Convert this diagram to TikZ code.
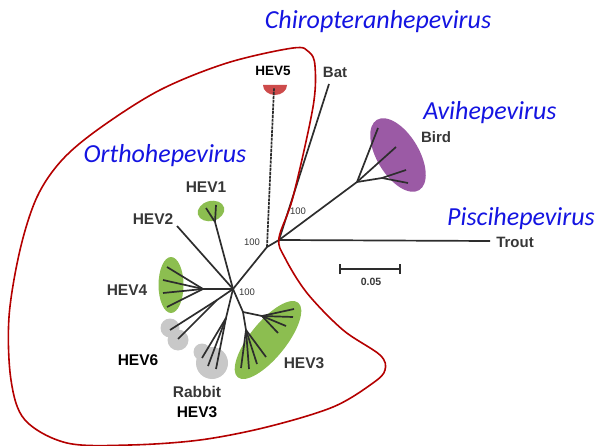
\documentclass[tikz,border=0pt]{standalone}
\usepackage{fontspec}
\setmainfont{Liberation Sans}
\newfontfamily\carlito{Carlito}
\usetikzlibrary{shapes.geometric}
\definecolor{branch}{RGB}{45,45,45}
\definecolor{cladered}{RGB}{180,0,0}
\definecolor{genus}{RGB}{20,20,225}
\definecolor{hevgreen}{RGB}{140,190,80}
\definecolor{blobgray}{RGB}{200,200,200}
\definecolor{birdpurple}{RGB}{155,90,165}
\definecolor{capred}{RGB}{205,75,75}
\definecolor{labgray}{RGB}{55,55,55}
\begin{document}
\begin{tikzpicture}[x=1pt,y=-1pt,
  br/.style={draw=branch, line width=1.7pt},
  genuslabel/.style={text=genus, font=\carlito\itshape\fontsize{26}{26}\selectfont, inner sep=0pt},
  taxlab/.style={text=labgray, font=\bfseries\fontsize{15.5}{15.5}\selectfont, inner sep=0pt},
  taxlabk/.style={text=black, font=\bfseries\fontsize{15.5}{15.5}\selectfont, inner sep=0pt},
  smalltax/.style={text=labgray, font=\bfseries\fontsize{15}{15}\selectfont, inner sep=0pt},
  bootstrap/.style={text=labgray, font=\fontsize{9.5}{9.5}\selectfont, inner sep=0pt},
  blob/.style={ellipse, draw=none, inner sep=0pt},
]
\useasboundingbox (0,0) rectangle (599,446);

% coloured clade blobs
\node[blob, fill=hevgreen, minimum width=96pt, minimum height=36pt, rotate=51] (g3) at (268,340) {};
\node[blob, fill=hevgreen, minimum width=25pt, minimum height=56pt] (g4) at (171,285) {};
\node[blob, fill=hevgreen, minimum width=27pt, minimum height=20pt, rotate=15] (g1) at (211,211) {};
\node[blob, fill=birdpurple, minimum width=82pt, minimum height=42pt, rotate=-59] (pb) at (398,155) {};
\node[circle, fill=blobgray, minimum size=19pt, inner sep=0pt] (g6a) at (170,328) {};
\node[circle, fill=blobgray, minimum size=21pt, inner sep=0pt] (g6b) at (178,340) {};
\node[circle, fill=blobgray, minimum size=32pt, inner sep=0pt] (rba) at (212,363) {};
\node[circle, fill=blobgray, minimum size=17pt, inner sep=0pt] (rbb) at (202,352) {};
\fill[capred] (263,85) arc[start angle=180, end angle=0, x radius=12, y radius=10] -- cycle;

% tree nodes
\coordinate (C1) at (233,289);
\coordinate (N2) at (267,247);
\coordinate (N3) at (279,240);
\coordinate (h5) at (274,88);
\coordinate (bat) at (329,84);
\coordinate (trout) at (490,241);
\coordinate (B) at (357,182);
\coordinate (b1) at (378,128);
\coordinate (b2) at (396,147);
\coordinate (bs) at (382,178);
\coordinate (b3) at (406,170);
\coordinate (b4) at (408,183);
\coordinate (h2) at (177,226);
\coordinate (h1) at (215,222);
\coordinate (h1a) at (206,208);
\coordinate (h1b) at (216,205);
\coordinate (s4) at (203,289);
\coordinate (t4a) at (167,267);
\coordinate (t4b) at (163,280);
\coordinate (t4c) at (163,293);
\coordinate (t4d) at (167,307);
\coordinate (s6) at (217,300);
\coordinate (t6a) at (170,330);
\coordinate (t6b) at (178,339);
\coordinate (rs) at (226,318);
\coordinate (ra) at (202,358);
\coordinate (rb) at (208,366);
\coordinate (rc) at (216,369);
\coordinate (h3) at (243,312);
\coordinate (ha) at (262,316);
\coordinate (hb) at (246,330);
\coordinate (ta1) at (294,309);
\coordinate (ta2) at (293,317);
\coordinate (ta3) at (286,326);
\coordinate (ta4) at (278,333);
\coordinate (tb1) at (241,368);
\coordinate (tb2) at (249,369);
\coordinate (tb3) at (257,364);
\coordinate (tb4) at (266,357);

% branches
\draw[br] (C1) -- (N2) -- (N3);
\draw[br, dash pattern=on 3pt off 0.8pt] (N2) -- (h5);
\draw[br] (N3) -- (bat);
\draw[br] (N3) -- (trout);
\draw[br] (N3) -- (B);
\draw[br] (B) -- (b1);
\draw[br] (B) -- (b2);
\draw[br] (B) -- (bs) -- (b3);
\draw[br] (bs) -- (b4);
\draw[br] (C1) -- (h2);
\draw[br] (C1) -- (h1) -- (h1a);
\draw[br] (h1) -- (h1b);
\draw[br] (C1) -- (s4);
\foreach \t in {t4a,t4b,t4c,t4d} \draw[br] (s4) -- (\t);
\draw[br] (C1) -- (s6);
\draw[br] (s6) -- (t6a);
\draw[br] (s6) -- (t6b);
\draw[br] (C1) -- (rs);
\foreach \t in {ra,rb,rc} \draw[br] (rs) -- (\t);
\draw[br] (C1) -- (h3);
\draw[br] (h3) -- (ha);
\draw[br] (h3) -- (hb);
\foreach \t in {ta1,ta2,ta3,ta4} \draw[br] (ha) -- (\t);
\foreach \t in {tb1,tb2,tb3,tb4} \draw[br] (hb) -- (\t);

% bootstrap values
\node[bootstrap] (bs1) at (252,242) {100};
\node[bootstrap] (bs2) at (298,211) {100};
\node[bootstrap] (bs3) at (247,292) {100};

% scale bar
\coordinate (sb1) at (340,269);
\coordinate (sb2) at (400,269);
\draw[draw=branch, line width=1.8pt] (sb1) -- (sb2);
\draw[draw=branch, line width=1.5pt] ([yshift=-5pt]sb1) -- ([yshift=5pt]sb1);
\draw[draw=branch, line width=1.5pt] ([yshift=-5pt]sb2) -- ([yshift=5pt]sb2);
\node[text=labgray, font=\bfseries\fontsize{10.5}{10.5}\selectfont, inner sep=0pt] (sbl) at (371,282) {0.05};

% taxon labels
\node[taxlabk, font=\bfseries\fontsize{13.5}{13.5}\selectfont] (l5) at (273,71) {HEV5};
\node[taxlab] (l1) at (206,187) {HEV1};
\node[taxlab] (l2) at (153,219) {HEV2};
\node[taxlab] (l4) at (127,290) {HEV4};
\node[taxlabk] (l6) at (138,360) {HEV6};
\node[taxlab] (lr) at (197,392) {Rabbit};
\node[taxlabk] (lr3) at (197,412) {HEV3};
\node[taxlab] (l3) at (304,363) {HEV3};
\node[smalltax] (lbat) at (335,72) {Bat};
\node[smalltax] (lbird) at (436,137) {Bird};
\node[smalltax] (ltrout) at (515,242) {Trout};

% genus labels
\node[genuslabel] (chiro) at (378,22) {Chiropteranhepevirus};
\node[genuslabel] (ortho) at (165,156) {Orthohepevirus};
\node[genuslabel] (avi) at (490,113) {Avihepevirus};
\node[genuslabel] (pisci) at (521,219) {Piscihepevirus};

% Orthohepevirus outline
\draw[cladered, line width=1.6pt] plot[smooth cycle, tension=0.55] coordinates {
 (67,443) (25,420) (11,380) (9,317) (20,250) (37,197) (62,160) (100,128) (160,90)
 (227,63) (293,48) (309,52) (315,66) (313,107) (293,197) (279,238) (285,258)
 (307,293) (343,330) (380,355) (385,370) (373,383) (333,407) (267,427) (200,440) (130,445)};
\end{tikzpicture}
\end{document}
